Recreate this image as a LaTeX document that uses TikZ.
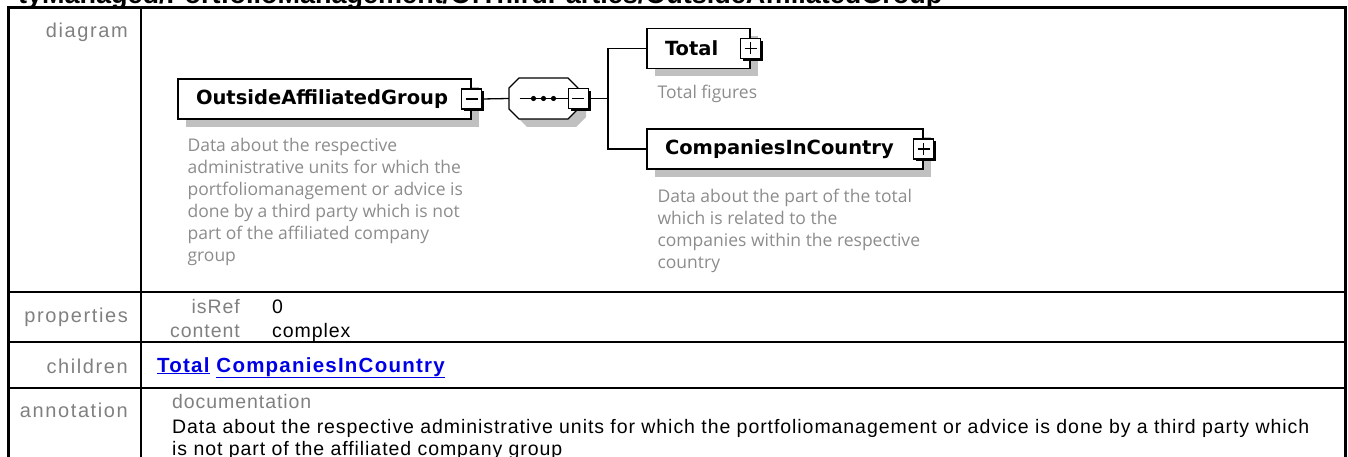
\documentclass[tikz,border=0pt]{standalone}
\usepackage{fontspec}
\setmainfont{Liberation Sans}
\newfontfamily\tablefont{Liberation Sans}[LetterSpace=4.8]
\newfontfamily\labelfont{Liberation Sans}[LetterSpace=8]
\newfontfamily\linkfont{Liberation Sans}[LetterSpace=6]
\newfontfamily\namefont{DejaVu Sans}
\newfontfamily\descfont{Open Sans}
\usetikzlibrary{positioning,shadows}

\definecolor{labelgray}{RGB}{128,128,128}
\definecolor{descgray}{RGB}{140,140,140}
\definecolor{shadowgray}{RGB}{192,192,192}
\definecolor{linkblue}{RGB}{0,0,230}

\begin{document}
\begin{tikzpicture}[x=1pt,y=-1pt,
    frame/.style={line width=3pt},
    rule/.style={line width=2.5pt},
    wire/.style={line width=1.3pt},
    lbl/.style={inner sep=0pt,text=labelgray,font=\labelfont\fontsize{20}{22}\selectfont},
    sublbl/.style={inner sep=0pt,text=labelgray,font=\tablefont\fontsize{19.5}{22}\selectfont},
    val/.style={inner sep=0pt,text=black,font=\tablefont\fontsize{19.5}{22}\selectfont},
    desc/.style={align=left,inner sep=0pt,text=descgray,font=\descfont\fontsize{17.5}{22}\selectfont},
    elem/.style={draw,line width=1.3pt,fill=white,minimum height=40pt,inner xsep=18pt,inner ysep=0pt,
        text width=#1,align=left,font=\namefont\bfseries\fontsize{19.5}{22}\selectfont,
        drop shadow={shadow xshift=8pt,shadow yshift=-8pt,fill=shadowgray,opacity=1}},
    toggle/.style={draw,line width=1.3pt,fill=white,minimum size=20pt,inner sep=0pt,
        drop shadow={shadow xshift=2.5pt,shadow yshift=-2.5pt,fill=black,opacity=1}},
    minus/.style={toggle,path picture={
        \draw[wire] ([xshift=-6pt]path picture bounding box.center) -- ([xshift=6pt]path picture bounding box.center);}},
    plus/.style={toggle,path picture={
        \draw[wire] ([xshift=-6pt]path picture bounding box.center) -- ([xshift=6pt]path picture bounding box.center);
        \draw[wire] ([yshift=-6pt]path picture bounding box.center) -- ([yshift=6pt]path picture bounding box.center);}},
    seqbox/.style={minimum width=69pt,minimum height=41pt,inner sep=0pt}]
    \useasboundingbox (0,0) rectangle (1348,457);

    % 1. Heading (cut off by the top edge)
    \node (title) [anchor=base west,inner sep=0pt,font=\bfseries\fontsize{27}{30}\selectfont] at (18,4) {tyManaged/PortfolioManagement/OfThirdParties/OutsideAffiliatedGroup};

    % 2. Table frame and rows
    \draw[frame] (8,470) -- (8,8) -- (1345,8) -- (1345,470);
    \foreach \y in {292,342,388}
        \draw[rule] (8,\y) -- (1345,\y);
    \draw[rule] (141,8) -- (141,470);

    \node (lbldiagram) [lbl,anchor=base east] at (128,38) {diagram};
    \node (lblprops) [lbl,anchor=base east] at (128,322) {properties};
    \node (lblchildren) [lbl,anchor=base east] at (128,373) {children};
    \node (lblannot) [lbl,anchor=base east] at (128,417) {annotation};

    % 3. Diagram: element, sequence and children
    \node (oag) [elem=257pt] at (324.5,99) {OutsideAffiliatedGroup};
    \node (oagsign) [minus] at (oag.east) {};
    \node (oagdesc) [desc,anchor=north west] at ([xshift=10pt,yshift=-18pt]oag.south west)
        {Data about the respective\\administrative units for which the\\portfoliomanagement or advice is\\done by a third party which is not\\part of the affiliated company\\group};

    % sequence octagon, shadow first
    \node (seq) [seqbox] at (543.5,98.5) {};
    \fill[shadowgray] (527,86) -- (576,86) -- (586,96) -- (586,117) -- (576,127) -- (527,127) -- (517,117) -- (517,96) -- cycle;
    \filldraw[wire,fill=white] (519,78) -- (568,78) -- (578,88) -- (578,109) -- (568,119) -- (519,119) -- (509,109) -- (509,88) -- cycle;
    \draw[wire] ([xshift=-24pt]seq.center) -- ([xshift=24pt]seq.center);
    \foreach \dx in {-10,0,10}
        \fill ([xshift=\dx pt]seq.center) circle (2.6pt);
    \node (seqsign) [minus] at (seq.east) {};

    \node (total) [elem=67pt] at (698.5,48.5) {Total};
    \node (totalsign) [plus] at (total.east) {};
    \node (totaldesc) [desc,anchor=north west] at ([xshift=11pt,yshift=-16pt]total.south west) {Total figures};

    \node (cic) [elem=240pt] at (785,149) {CompaniesInCountry};
    \node (cicsign) [plus] at (cic.east) {};
    \node (cicdesc) [desc,anchor=north west] at ([xshift=11pt,yshift=-19pt]cic.south west)
        {Data about the part of the total\\which is related to the\\companies within the respective\\country};

    % connectors
    \coordinate (fork) at ([xshift=19pt]seqsign.east);
    \draw[wire] (oagsign.east) -- (seq.west);
    \draw[wire] (seqsign.east) -- (fork);
    \draw[wire] (total.west) -| (fork) |- (cic.west);

    % 4. Properties, children, annotation
    \node (isref) [sublbl,anchor=base east] at (240,313) {isRef};
    \node (content) [sublbl,anchor=base east] at (240,337) {content};
    \node (isrefval) [val,anchor=base west] at (272,313) {0};
    \node (contentval) [val,anchor=base west] at (272,337) {complex};

    \node (childlinks) [anchor=base west,inner sep=0pt,text=linkblue,font=\linkfont\bfseries\fontsize{20.5}{24}\selectfont]
        at (157,372) {\underline{Total} \underline{CompaniesInCountry}};

    \node (docword) [sublbl,anchor=base west] at (172,408) {documentation};
    \node (docline1) [val,anchor=base west] at (172,433) {Data about the respective administrative units for which the portfoliomanagement or advice is done by a third party which};
    \node (docline2) [val,anchor=base west] at (172,455) {is not part of the affiliated company group};
\end{tikzpicture}
\end{document}
